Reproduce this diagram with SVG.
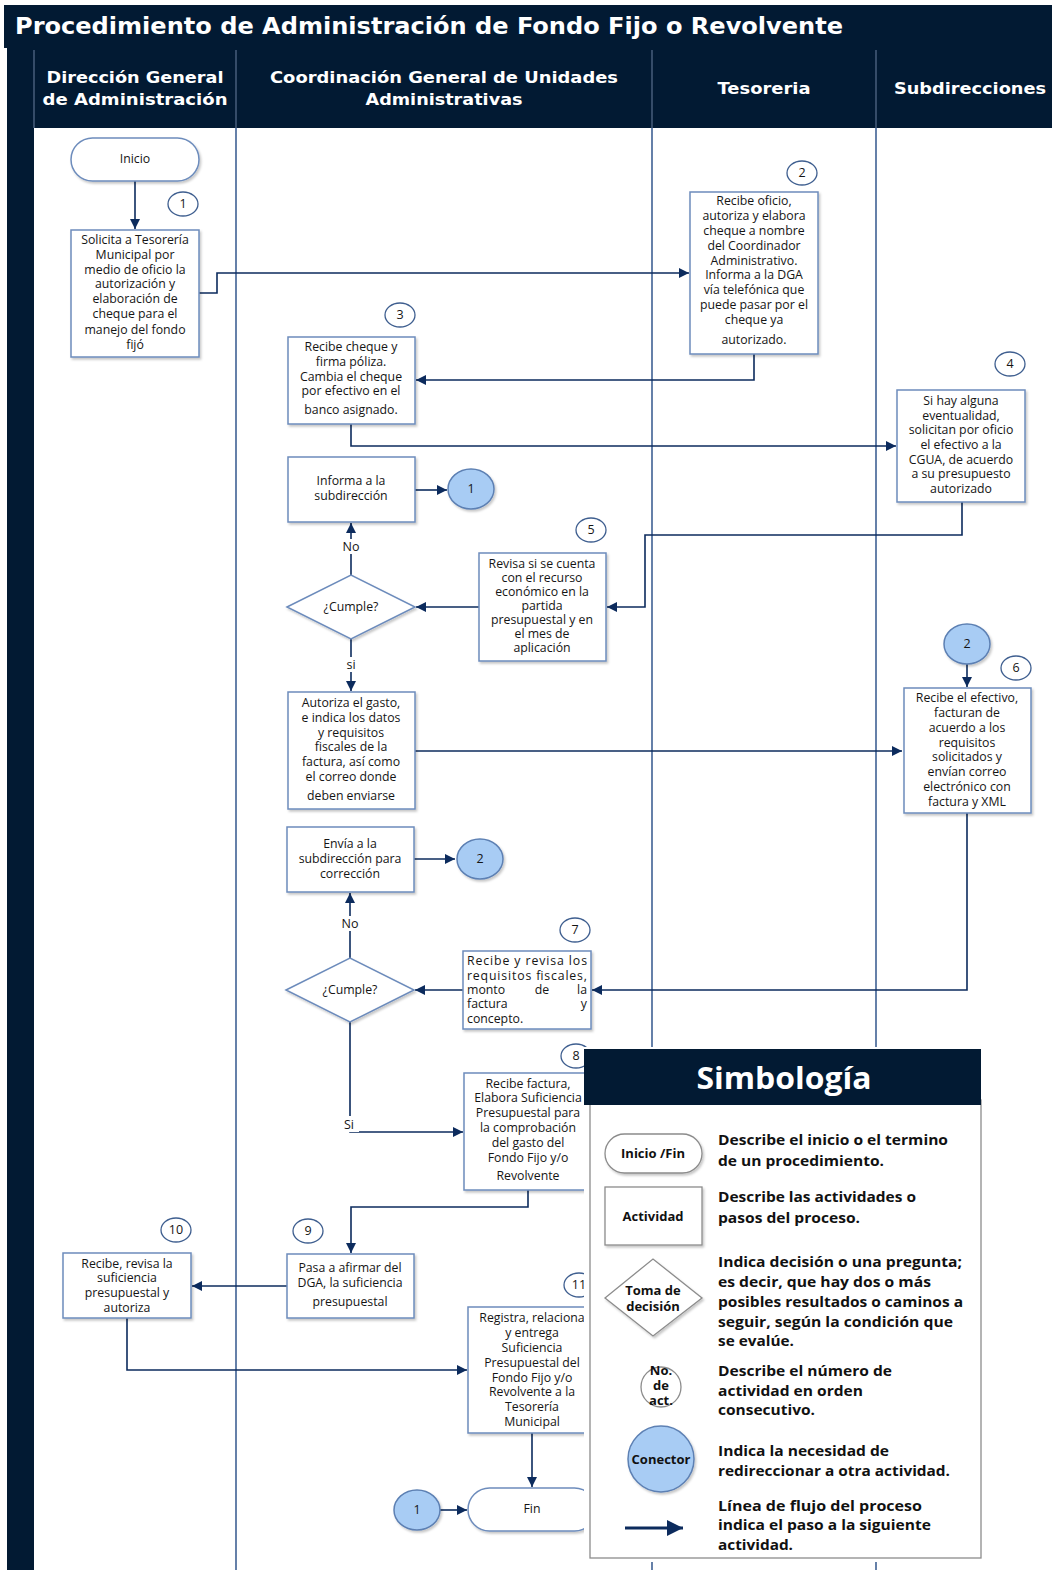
<svg xmlns="http://www.w3.org/2000/svg" width="1052" height="1570" viewBox="0 0 1052 1570">
<defs>
<style>
.hd{fill:#021a33}
.ht{font-family:"DejaVu Sans",Verdana,sans-serif;font-weight:bold;fill:#fff;text-anchor:middle;font-size:16px}
.lane{stroke:#3f6194;stroke-width:1.6;fill:none}
.hlane{stroke:#5a6f8e;stroke-width:1.2;fill:none}
.box{fill:#fff;stroke:#6d8cbc;stroke-width:1.5;filter:url(#sh)}
.num{fill:#fff;stroke:#3e5e8f;stroke-width:1.3}
.con{fill:#a8ccf4;stroke:#5d80b3;stroke-width:1.5;filter:url(#sh)}
.t{font-family:"Open Sans","Noto Sans",sans-serif;font-size:12.3px;fill:#151515;text-anchor:middle}
.tl{font-family:"Open Sans","Noto Sans",sans-serif;font-size:12.3px;fill:#151515}
.nt{font-family:"Open Sans","Noto Sans",sans-serif;font-size:12.5px;fill:#151515;text-anchor:middle}
.ln{stroke:#0c2b5d;stroke-width:1.6;fill:none}
.lbl{font-family:"Open Sans","Noto Sans",sans-serif;font-size:12.5px;fill:#151515;text-anchor:middle}
.lg{fill:#fff;stroke:#8c8c8c;stroke-width:1.3}
.lgt{font-family:"Open Sans","Noto Sans",sans-serif;font-weight:bold;font-size:13px;fill:#111;text-anchor:middle}
.lgd{font-family:"Open Sans","Noto Sans",sans-serif;font-weight:bold;font-size:14.5px;fill:#111}
</style>
<filter id="sh" x="-10%" y="-10%" width="130%" height="130%">
<feDropShadow dx="1.5" dy="2" stdDeviation="1.2" flood-color="#000" flood-opacity="0.22"/>
</filter>
<marker id="arr" viewBox="0 0 10 10" refX="10" refY="5" markerWidth="10" markerHeight="10" orient="auto" markerUnits="userSpaceOnUse">
<path d="M0,0 L10,5 L0,10 z" fill="#0c2b5d"/>
</marker>
<marker id="arrL" viewBox="0 0 10 10" refX="10" refY="5" markerWidth="16" markerHeight="16" orient="auto" markerUnits="userSpaceOnUse">
<path d="M0,0 L10,5 L0,10 z" fill="#0c2b5d"/>
</marker>
</defs>
<rect width="1052" height="1570" fill="#fff"/>

<!-- Title and header -->
<g id="header">
<rect class="hd" x="4" y="5" width="1048" height="43"/>
<text x="15" y="34" font-family="DejaVu Sans,Verdana,sans-serif" font-weight="bold" font-size="23" fill="#fff" textLength="828" lengthAdjust="spacingAndGlyphs">Procedimiento de Administración de Fondo Fijo o Revolvente</text>
<rect class="hd" x="7" y="48" width="1045" height="80"/>
<rect class="hd" x="7" y="48" width="27" height="1522"/>
<line class="hlane" x1="34" y1="50" x2="34" y2="128"/>
<line class="hlane" x1="236" y1="50" x2="236" y2="128"/>
<line class="hlane" x1="652" y1="50" x2="652" y2="128"/>
<line class="hlane" x1="876" y1="50" x2="876" y2="128"/>
<text class="ht" x="135" y="83" textLength="177" lengthAdjust="spacingAndGlyphs">Dirección General</text>
<text class="ht" x="135" y="105" textLength="185" lengthAdjust="spacingAndGlyphs">de Administración</text>
<text class="ht" x="444" y="83" textLength="348" lengthAdjust="spacingAndGlyphs">Coordinación General de Unidades</text>
<text class="ht" x="444" y="105" textLength="157" lengthAdjust="spacingAndGlyphs">Administrativas</text>
<text class="ht" x="764" y="94" textLength="93" lengthAdjust="spacingAndGlyphs">Tesoreria</text>
<text class="ht" x="970" y="94" textLength="152" lengthAdjust="spacingAndGlyphs">Subdirecciones</text>
</g>

<g id="lanes">
<line class="lane" x1="236" y1="128" x2="236" y2="1570"/>
<line class="lane" x1="652" y1="128" x2="652" y2="1570"/>
<line class="lane" x1="876" y1="128" x2="876" y2="1570"/>
</g>

<!-- Connectors -->
<g id="connectors">
<path class="ln" d="M135,181 V229" marker-end="url(#arr)"/>
<path class="ln" d="M199,293 H217 V273 H689" marker-end="url(#arr)"/>
<path class="ln" d="M754,354 V380 H416" marker-end="url(#arr)"/>
<path class="ln" d="M351,424 V446 H896" marker-end="url(#arr)"/>
<path class="ln" d="M962,502 V535 H645 V607 H607" marker-end="url(#arr)"/>
<path class="ln" d="M479,607 H416" marker-end="url(#arr)"/>
<path class="ln" d="M351,575 V523" marker-end="url(#arr)"/>
<path class="ln" d="M415,490 H447" marker-end="url(#arr)"/>
<path class="ln" d="M351,639 V691" marker-end="url(#arr)"/>
<path class="ln" d="M415,751 H902" marker-end="url(#arr)"/>
<path class="ln" d="M967,664 V687" marker-end="url(#arr)"/>
<path class="ln" d="M967,813 V990 H592" marker-end="url(#arr)"/>
<path class="ln" d="M463,990 H415" marker-end="url(#arr)"/>
<path class="ln" d="M350,958 V893" marker-end="url(#arr)"/>
<path class="ln" d="M414,859 H455" marker-end="url(#arr)"/>
<path class="ln" d="M350,1022 V1132 H463" marker-end="url(#arr)"/>
<path class="ln" d="M528,1190 V1207 H351 V1253" marker-end="url(#arr)"/>
<path class="ln" d="M287,1286 H192" marker-end="url(#arr)"/>
<path class="ln" d="M127,1318 V1370 H467" marker-end="url(#arr)"/>
<path class="ln" d="M532,1433 V1487" marker-end="url(#arr)"/>
<path class="ln" d="M440,1510 H467" marker-end="url(#arr)"/>
<rect x="340" y="539" width="22" height="15" fill="#fff"/>
<text class="lbl" x="351" y="551">No</text>
<rect x="343" y="657" width="16" height="15" fill="#fff"/>
<text class="lbl" x="351" y="669">si</text>
<rect x="339" y="916" width="22" height="15" fill="#fff"/>
<text class="lbl" x="350" y="928">No</text>
<rect x="341" y="1116" width="18" height="16" fill="#fff"/>
<text class="lbl" x="349" y="1129">Si</text>
</g>

<!-- Nodes -->
<g id="inicio">
<rect class="box" x="71" y="138" width="128" height="43" rx="21.5"/>
<text class="t" x="135" y="163">Inicio</text>
</g>
<g id="n1">
<ellipse class="num" cx="183" cy="204" rx="15" ry="12"/>
<text class="nt" x="183" y="208">1</text>
</g>
<g id="act1">
<rect class="box" x="71" y="230" width="128" height="127"/>
<text class="t" x="135" y="244">Solicita a Tesorería</text>
<text class="t" x="135" y="259">Municipal por</text>
<text class="t" x="135" y="274">medio de oficio la</text>
<text class="t" x="135" y="288">autorización y</text>
<text class="t" x="135" y="303">elaboración de</text>
<text class="t" x="135" y="318">cheque para el</text>
<text class="t" x="135" y="334">manejo del fondo</text>
<text class="t" x="135" y="349">fijó</text>
</g>
<g id="n2">
<ellipse class="num" cx="802" cy="173" rx="15" ry="12"/>
<text class="nt" x="802" y="177">2</text>
</g>
<g id="act2">
<rect class="box" x="690" y="192" width="128" height="162"/>
<text class="t" x="754" y="205">Recibe oficio,</text>
<text class="t" x="754" y="220">autoriza y elabora</text>
<text class="t" x="754" y="235">cheque a nombre</text>
<text class="t" x="754" y="250">del Coordinador</text>
<text class="t" x="754" y="265">Administrativo.</text>
<text class="t" x="754" y="279">Informa a la DGA</text>
<text class="t" x="754" y="294">vía telefónica que</text>
<text class="t" x="754" y="309">puede pasar por el</text>
<text class="t" x="754" y="324">cheque ya</text>
<text class="t" x="754" y="344">autorizado.</text>
</g>
<g id="n3">
<ellipse class="num" cx="400" cy="315" rx="15" ry="12"/>
<text class="nt" x="400" y="319">3</text>
</g>
<g id="act3">
<rect class="box" x="288" y="337" width="127" height="87"/>
<text class="t" x="351" y="351">Recibe cheque y</text>
<text class="t" x="351" y="366">firma póliza.</text>
<text class="t" x="351" y="381">Cambia el cheque</text>
<text class="t" x="351" y="395">por efectivo en el</text>
<text class="t" x="351" y="414">banco asignado.</text>
</g>
<g id="n4">
<ellipse class="num" cx="1010" cy="364" rx="15" ry="12"/>
<text class="nt" x="1010" y="368">4</text>
</g>
<g id="act4">
<rect class="box" x="897" y="390" width="128" height="112"/>
<text class="t" x="961" y="405">Si hay alguna</text>
<text class="t" x="961" y="420">eventualidad,</text>
<text class="t" x="961" y="434">solicitan por oficio</text>
<text class="t" x="961" y="449">el efectivo a la</text>
<text class="t" x="961" y="464">CGUA, de acuerdo</text>
<text class="t" x="961" y="478">a su presupuesto</text>
<text class="t" x="961" y="493">autorizado</text>
</g>
<g id="informa1">
<rect class="box" x="288" y="457" width="127" height="65"/>
<text class="t" x="351" y="485">Informa a la</text>
<text class="t" x="351" y="500">subdirección</text>
</g>
<g id="con1a">
<ellipse class="con" cx="471" cy="489" rx="23" ry="20"/>
<text class="nt" x="471" y="493">1</text>
</g>
<g id="n5">
<ellipse class="num" cx="591" cy="530" rx="15" ry="12"/>
<text class="nt" x="591" y="534">5</text>
</g>
<g id="act5">
<rect class="box" x="479" y="553" width="127" height="108"/>
<text class="t" x="542" y="568">Revisa si se cuenta</text>
<text class="t" x="542" y="582">con el recurso</text>
<text class="t" x="542" y="596">económico en la</text>
<text class="t" x="542" y="610">partida</text>
<text class="t" x="542" y="624">presupuestal y en</text>
<text class="t" x="542" y="638">el mes de</text>
<text class="t" x="542" y="652">aplicación</text>
</g>
<g id="dec1">
<polygon class="box" points="287,607 351,575 415,607 351,639"/>
<text class="t" x="351" y="611">¿Cumple?</text>
</g>
<g id="act-autoriza">
<rect class="box" x="288" y="692" width="127" height="117"/>
<text class="t" x="351" y="707">Autoriza el gasto,</text>
<text class="t" x="351" y="722">e indica los datos</text>
<text class="t" x="351" y="737">y requisitos</text>
<text class="t" x="351" y="751">fiscales de la</text>
<text class="t" x="351" y="766">factura, así como</text>
<text class="t" x="351" y="781">el correo donde</text>
<text class="t" x="351" y="800">deben enviarse</text>
</g>
<g id="con2a">
<ellipse class="con" cx="967" cy="644" rx="23" ry="20"/>
<text class="nt" x="967" y="648">2</text>
</g>
<g id="n6">
<ellipse class="num" cx="1016" cy="668" rx="15" ry="12"/>
<text class="nt" x="1016" y="672">6</text>
</g>
<g id="act6">
<rect class="box" x="904" y="688" width="127" height="125"/>
<text class="t" x="967" y="702">Recibe el efectivo,</text>
<text class="t" x="967" y="717">facturan de</text>
<text class="t" x="967" y="732">acuerdo a los</text>
<text class="t" x="967" y="747">requisitos</text>
<text class="t" x="967" y="761">solicitados y</text>
<text class="t" x="967" y="776">envían correo</text>
<text class="t" x="967" y="791">electrónico con</text>
<text class="t" x="967" y="806">factura y XML</text>
</g>
<g id="envia">
<rect class="box" x="287" y="827" width="127" height="65"/>
<text class="t" x="350" y="848">Envía a la</text>
<text class="t" x="350" y="863">subdirección para</text>
<text class="t" x="350" y="878">corrección</text>
</g>
<g id="con2b">
<ellipse class="con" cx="480" cy="859" rx="23" ry="20"/>
<text class="nt" x="480" y="863">2</text>
</g>
<g id="n7">
<ellipse class="num" cx="575" cy="930" rx="15" ry="12"/>
<text class="nt" x="575" y="934">7</text>
</g>
<g id="act7">
<rect class="box" x="463" y="951" width="128" height="78"/>
<text class="tl" x="467" y="965" textLength="120" lengthAdjust="spacing">Recibe y revisa los</text>
<text class="tl" x="467" y="980" textLength="120" lengthAdjust="spacing">requisitos fiscales,</text>
<text class="tl" x="467" y="994">monto</text>
<text class="t" x="542" y="994">de</text>
<text class="tl" x="587" y="994" text-anchor="end">la</text>
<text class="tl" x="467" y="1008">factura</text>
<text class="tl" x="587" y="1008" text-anchor="end">y</text>
<text class="tl" x="467" y="1023">concepto.</text>
</g>
<g id="dec2">
<polygon class="box" points="286,990 350,958 414,990 350,1022"/>
<text class="t" x="350" y="994">¿Cumple?</text>
</g>
<g id="n8">
<ellipse class="num" cx="576" cy="1056" rx="15" ry="12"/>
<text class="nt" x="576" y="1060">8</text>
</g>
<g id="act8">
<rect class="box" x="464" y="1073" width="127" height="117"/>
<text class="t" x="528" y="1088">Recibe factura,</text>
<text class="t" x="528" y="1102">Elabora Suficiencia</text>
<text class="t" x="528" y="1117">Presupuestal para</text>
<text class="t" x="528" y="1132">la comprobación</text>
<text class="t" x="528" y="1147">del gasto del</text>
<text class="t" x="528" y="1162">Fondo Fijo y/o</text>
<text class="t" x="528" y="1180">Revolvente</text>
</g>
<g id="n9">
<ellipse class="num" cx="308" cy="1231" rx="15" ry="12"/>
<text class="nt" x="308" y="1235">9</text>
</g>
<g id="act9">
<rect class="box" x="287" y="1254" width="127" height="64"/>
<text class="t" x="350" y="1272">Pasa a afirmar del</text>
<text class="t" x="350" y="1287">DGA, la suficiencia</text>
<text class="t" x="350" y="1306">presupuestal</text>
</g>
<g id="n10">
<ellipse class="num" cx="176" cy="1230" rx="15" ry="12"/>
<text class="nt" x="176" y="1234">10</text>
</g>
<g id="act10">
<rect class="box" x="63" y="1253" width="128" height="65"/>
<text class="t" x="127" y="1268">Recibe, revisa la</text>
<text class="t" x="127" y="1282">suficiencia</text>
<text class="t" x="127" y="1297">presupuestal y</text>
<text class="t" x="127" y="1312">autoriza</text>
</g>
<g id="n11">
<ellipse class="num" cx="579" cy="1285" rx="15" ry="12"/>
<text class="nt" x="579" y="1289">11</text>
</g>
<g id="act11">
<rect class="box" x="468" y="1307" width="127" height="126"/>
<text class="t" x="532" y="1322">Registra, relaciona</text>
<text class="t" x="532" y="1337">y entrega</text>
<text class="t" x="532" y="1352">Suficiencia</text>
<text class="t" x="532" y="1367">Presupuestal del</text>
<text class="t" x="532" y="1382">Fondo Fijo y/o</text>
<text class="t" x="532" y="1396">Revolvente a la</text>
<text class="t" x="532" y="1411">Tesorería</text>
<text class="t" x="532" y="1426">Municipal</text>
</g>
<g id="con1b">
<ellipse class="con" cx="417" cy="1510" rx="23" ry="20"/>
<text class="nt" x="417" y="1514">1</text>
</g>
<g id="fin">
<rect class="box" x="468" y="1488" width="128" height="43" rx="21.5"/>
<text class="t" x="532" y="1513">Fin</text>
</g>

<!-- Legend -->
<g id="legend">
<rect x="584" y="1047" width="400" height="515" fill="#fff"/>
<rect class="lg" x="590" y="1100" width="391" height="458"/>
<rect class="hd" x="584" y="1049" width="397" height="56"/>
<text x="784" y="1089" font-family="Open Sans,Noto Sans,sans-serif" font-weight="bold" font-size="30" fill="#fff" text-anchor="middle" textLength="175" lengthAdjust="spacingAndGlyphs">Simbología</text>
<rect class="lg" x="605" y="1134" width="97" height="39" rx="19.5" filter="url(#sh)"/>
<text class="lgt" x="653" y="1158">Inicio /Fin</text>
<rect class="lg" x="605" y="1187" width="97" height="58" filter="url(#sh)"/>
<text class="lgt" x="653" y="1221">Actividad</text>
<polygon class="lg" points="605,1298 653,1259 702,1298 653,1336" filter="url(#sh)"/>
<text class="lgt" x="653" y="1295">Toma de</text>
<text class="lgt" x="653" y="1311">decisión</text>
<circle class="lg" cx="661" cy="1387" r="20"/>
<text class="lgt" x="661" y="1375" font-size="10">No.</text>
<text class="lgt" x="661" y="1390" font-size="10">de</text>
<text class="lgt" x="661" y="1405" font-size="10">act.</text>
<circle class="con" cx="661" cy="1459" r="33"/>
<text class="lgt" x="661" y="1464" font-size="12">Conector</text>
<path d="M625,1528 H683" stroke="#0c2b5d" stroke-width="3" fill="none" marker-end="url(#arrL)"/>
<text class="lgd" x="718" y="1145" textLength="230" lengthAdjust="spacingAndGlyphs">Describe el inicio o el termino</text>
<text class="lgd" x="718" y="1166" textLength="166" lengthAdjust="spacingAndGlyphs">de un procedimiento.</text>
<text class="lgd" x="718" y="1202" textLength="198" lengthAdjust="spacingAndGlyphs">Describe las actividades o</text>
<text class="lgd" x="718" y="1223" textLength="142" lengthAdjust="spacingAndGlyphs">pasos del proceso.</text>
<text class="lgd" x="718" y="1267" textLength="244" lengthAdjust="spacingAndGlyphs">Indica decisión o una pregunta;</text>
<text class="lgd" x="718" y="1287" textLength="213" lengthAdjust="spacingAndGlyphs">es decir, que hay dos o más</text>
<text class="lgd" x="718" y="1307" textLength="245" lengthAdjust="spacingAndGlyphs">posibles resultados o caminos a</text>
<text class="lgd" x="718" y="1327" textLength="235" lengthAdjust="spacingAndGlyphs">seguir, según la condición que</text>
<text class="lgd" x="718" y="1346" textLength="76" lengthAdjust="spacingAndGlyphs">se evalúe.</text>
<text class="lgd" x="718" y="1376" textLength="174" lengthAdjust="spacingAndGlyphs">Describe el número de</text>
<text class="lgd" x="718" y="1396" textLength="145" lengthAdjust="spacingAndGlyphs">actividad en orden</text>
<text class="lgd" x="718" y="1415" textLength="97" lengthAdjust="spacingAndGlyphs">consecutivo.</text>
<text class="lgd" x="718" y="1456" textLength="171" lengthAdjust="spacingAndGlyphs">Indica la necesidad de</text>
<text class="lgd" x="718" y="1476" textLength="232" lengthAdjust="spacingAndGlyphs">redireccionar a otra actividad.</text>
<text class="lgd" x="718" y="1511" textLength="204" lengthAdjust="spacingAndGlyphs">Línea de flujo  del proceso</text>
<text class="lgd" x="718" y="1530" textLength="213" lengthAdjust="spacingAndGlyphs">indica el paso a la siguiente</text>
<text class="lgd" x="718" y="1550" textLength="75" lengthAdjust="spacingAndGlyphs">actividad.</text>
</g>
</svg>
